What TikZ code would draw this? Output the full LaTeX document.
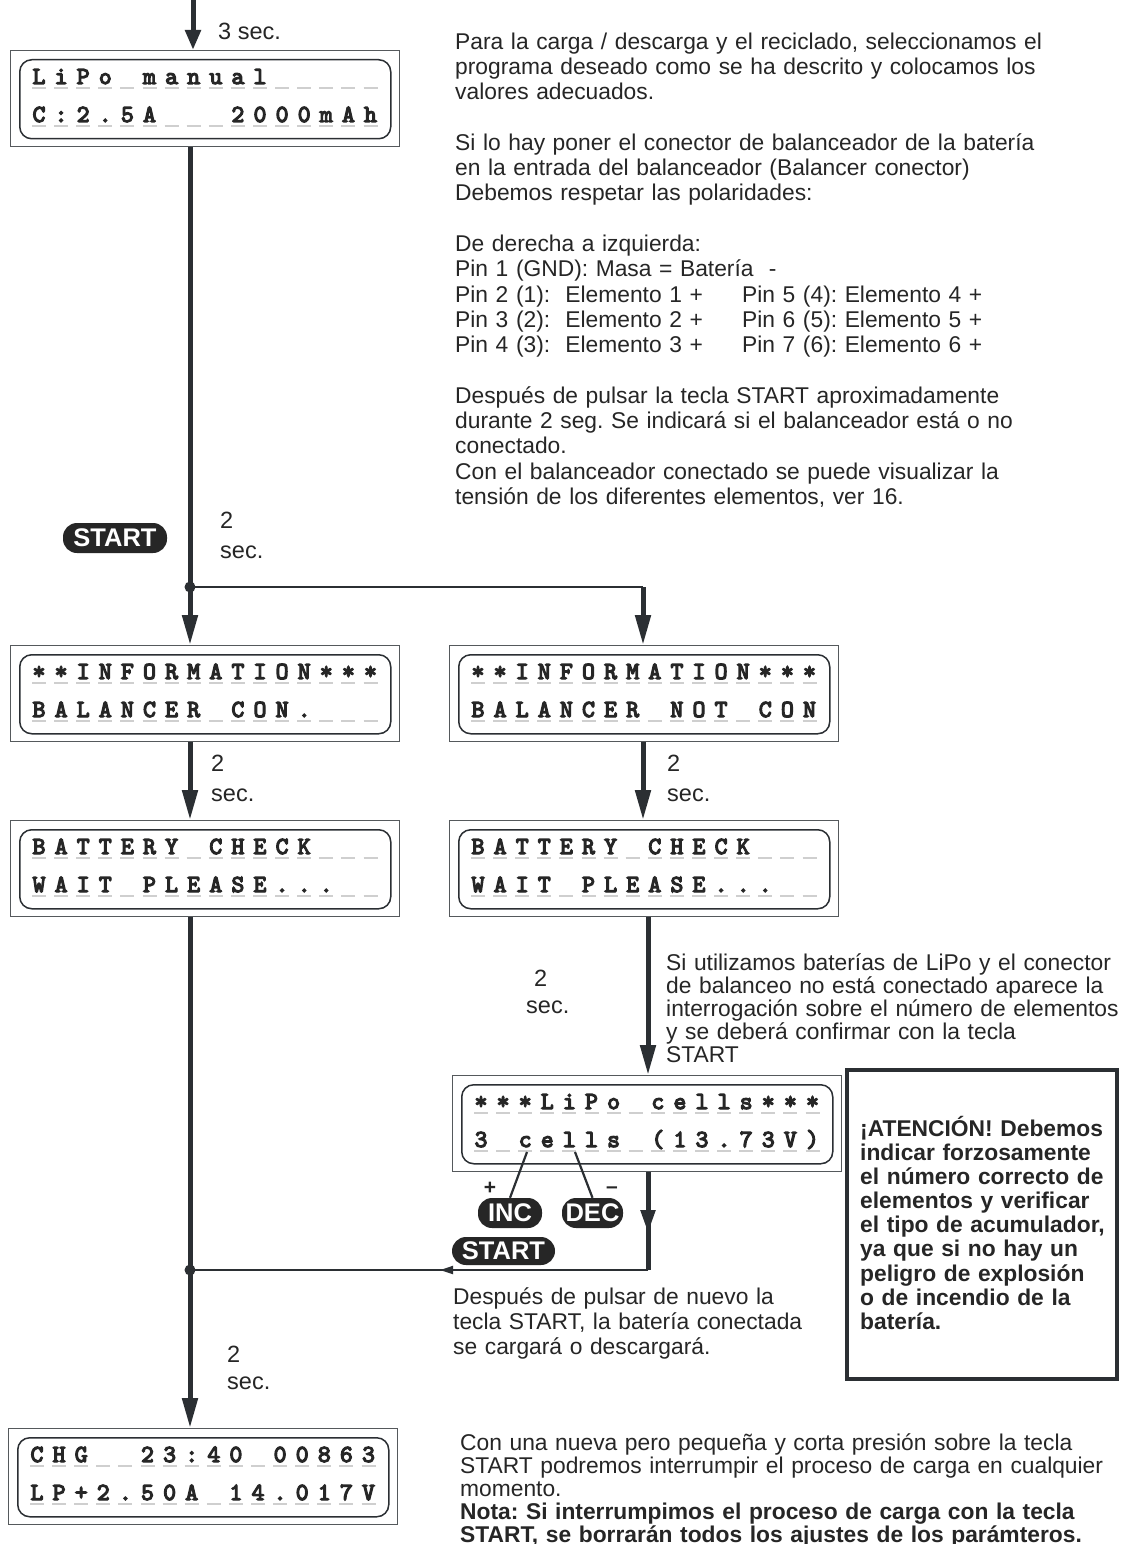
\documentclass[tikz,border=0pt]{standalone}
\usepackage{fontspec}
\setmainfont{Liberation Sans}
\newfontfamily\lcdff{lmmono10-regular.otf}[FakeBold=5]
\usetikzlibrary{arrows.meta}
\definecolor{ink}{HTML}{2B2F33}
\definecolor{txt}{HTML}{262626}
\definecolor{ulc}{HTML}{CFCFCF}
\newcommand\lcdfont{\fontsize{24.5}{24.5}\selectfont\lcdff}
\newcommand\parafont{\fontsize{22.8}{25.3}\selectfont}
\newcommand\parafontB{\fontsize{22.8}{23}\selectfont}
\newcommand\parafontC{\fontsize{22.8}{25}\selectfont}
\newcommand\attfont{\fontsize{22.8}{24.1}\selectfont\bfseries}
\newcommand\lblfont{\fontsize{23.5}{23.5}\selectfont}
\newcommand\pillfont{\fontsize{25.5}{25.5}\selectfont\bfseries}
\frenchspacing
\tikzset{
  x=1pt, y=-1pt,
  lcdouter/.style={draw=ink!80, line width=1.4pt, minimum width=389pt, minimum height=96pt, inner sep=0pt, anchor=north west},
  lcdinner/.style={draw=ink, line width=1.5pt, rounded corners=12pt, minimum width=371pt, minimum height=79pt, inner sep=0pt, anchor=north west},
  lcdch/.style={font=\lcdfont, text=txt, inner sep=0pt, anchor=base},
  thickln/.style={draw=ink, line width=5pt},
  thickarr/.style={draw=ink, line width=5pt, -{Triangle[length=30pt,width=15pt]}},
  thinln/.style={draw=ink, line width=1.8pt},
  jdot/.style={circle, fill=ink, inner sep=0pt, minimum size=11pt},
  pill/.style={fill=txt, text=white, font=\pillfont, rounded corners=14pt, inner sep=0pt},
  lbl/.style={font=\lblfont, text=txt, inner sep=0pt, anchor=base west},
  para/.style={text=txt, inner sep=0pt, anchor=north west, align=left},
  keyln/.style={draw=ink, line width=2.2pt},
}
\newcommand\lcdrow[4]{%
  \foreach \ch [count=\k from 0] in {#4} {%
    \draw[ulc, line width=1.2pt] ({#2+22.1*\k-7},{#3+4}) -- ({#2+22.1*\k+7},{#3+4});
    \node[lcdch] (#1\k) at ({#2+22.1*\k},{#3}) {\ch};
  }%
}
\newcommand\lcd[5]{%
  \node[lcdouter] (#1) at (#2,#3) {};
  \node[lcdinner] (#1i) at ({#2+9},{#3+9}) {};
  \lcdrow{#1a}{#2+29}{#3+34}{#4}
  \lcdrow{#1b}{#2+29}{#3+72}{#5}
}
\begin{document}
\begin{tikzpicture}
\useasboundingbox (0,0) rectangle (1126,1544);
\fill[white] (0,0) rectangle (1126,1544);

% LCD displays
\lcd{b1}{10}{50}{L,i,P,o,{},m,a,n,u,a,l,{},{},{},{},{}}{C,:,2,.,5,A,{},{},{},2,0,0,0,m,A,h}
\lcd{b2l}{10}{645}{*,*,I,N,F,O,R,M,A,T,I,O,N,*,*,*}{B,A,L,A,N,C,E,R,{},C,O,N,.,{},{},{}}
\lcd{b2r}{449}{645}{*,*,I,N,F,O,R,M,A,T,I,O,N,*,*,*}{B,A,L,A,N,C,E,R,{},N,O,T,{},C,O,N}
\lcd{b3l}{10}{820}{B,A,T,T,E,R,Y,{},C,H,E,C,K,{},{},{}}{W,A,I,T,{},P,L,E,A,S,E,.,.,.,{},{}}
\lcd{b3r}{449}{820}{B,A,T,T,E,R,Y,{},C,H,E,C,K,{},{},{}}{W,A,I,T,{},P,L,E,A,S,E,.,.,.,{},{}}
\lcd{b4}{452}{1075}{*,*,*,L,i,P,o,{},c,e,l,l,s,*,*,*}{3,{},c,e,l,l,s,{},{(},1,3,.,7,3,V,{)}}
\lcd{b5}{8}{1428}{C,H,G,{},{},2,3,:,4,0,{},0,0,8,6,3}{L,P,+,2,.,5,0,A,{},1,4,.,0,1,7,V}

% coordinates
\coordinate (top0) at (193,0);
\coordinate (j1) at (190,587);
\coordinate (j1r) at (643,587);
\coordinate (rx2) at (648,0);
\coordinate (j2) at (190,1270);
\coordinate (j2r) at (648,1270);
\coordinate (m4) at (648,1233);
\coordinate (a2) at (440,1270);
\coordinate (incfrom) at (527,1152);
\coordinate (decfrom) at (575,1152);

% connectors
\draw[thickln, -{Triangle[length=20pt,width=15pt]}] (top0) -- (top0 |- b1.north);
\draw[thickln] (b1.south -| j1) -- (j1);
\draw[thickarr] (j1) -- (j1 |- b2l.north);
\draw[thinln] (j1) -- (j1r);
\draw[thickarr] (j1r) -- (j1r |- b2r.north);
\draw[thickarr] (b2l.south -| j1) -- (b3l.north -| j1);
\draw[thickarr] (b2r.south -| j1r) -- (b3r.north -| j1r);
\draw[thickarr] (b3r.south -| rx2) -- (b4.north -| rx2);
\draw[thickln] (b3l.south -| j1) -- (j2);
\draw[thickarr] (j2) -- (b5.north -| j2);
\draw[thickln] (b4.south -| rx2) -- (j2r);
\draw[thickln, -{Triangle[length=23pt,width=14pt]}] (b4.south -| rx2) -- (m4);
\draw[thinln] (j2r) -- (j2);
\draw[thinln, -{Triangle[length=13pt,width=8pt]}] (j2r) -- (a2);
\node[jdot] (d1) at (j1) {};
\node[jdot] (d2) at (j2) {};

% buttons
\node[pill, minimum width=104pt, minimum height=30pt] (startA) at (115,538) {START};
\node[pill, minimum width=64pt, minimum height=30pt] (inc) at (510,1213) {INC};
\node[pill, minimum width=61pt, minimum height=30pt] (dec) at (592.5,1213) {DEC};
\node[pill, minimum width=103pt, minimum height=28pt] (startB) at (503.5,1251) {START};
\draw[keyln] (incfrom) -- (inc.north);
\draw[keyln] (decfrom) -- (dec.north);
\node[font=\fontsize{21}{21}\selectfont\bfseries, text=txt, inner sep=0pt] (plus) at (490,1188) {+};
\node[font=\fontsize{21}{21}\selectfont\bfseries, text=txt, inner sep=0pt] (minus) at (612,1190) {–};

% time labels
\node[lbl] (s3) at (218,40) {3 sec.};
\node[lbl] (n2a) at (220,528) {2};
\node[lbl] (s2a) at (220,558) {sec.};
\node[lbl] (n2b) at (211,771) {2};
\node[lbl] (s2b) at (211,801) {sec.};
\node[lbl] (n2c) at (667,771) {2};
\node[lbl] (s2c) at (667,801) {sec.};
\node[lbl] (n2d) at (534,986) {2};
\node[lbl] (s2d) at (526,1013) {sec.};
\node[lbl] (n2e) at (227,1362) {2};
\node[lbl] (s2e) at (227,1389) {sec.};

% texts
\node[para, font=\parafont, text width=660pt] (pA) at (455,32) {\rule{0pt}{17pt}Para la carga / descarga y el reciclado, seleccionamos el\\
programa deseado como se ha descrito y colocamos los\\
valores adecuados.\\[25.3pt]
Si lo hay poner el conector de balanceador de la batería\\
en la entrada del balanceador (Balancer conector)\\
Debemos respetar las polaridades:\\[25.3pt]
De derecha a izquierda:\\
Pin 1 (GND): Masa = Batería\ \ -\\
\makebox[287pt][l]{Pin 2 (1):\ \ Elemento 1 +}Pin 5 (4): Elemento 4 +\\
\makebox[287pt][l]{Pin 3 (2):\ \ Elemento 2 +}Pin 6 (5): Elemento 5 +\\
\makebox[287pt][l]{Pin 4 (3):\ \ Elemento 3 +}Pin 7 (6): Elemento 6 +\\[25.3pt]
Después de pulsar la tecla START aproximadamente\\
durante 2 seg. Se indicará si el balanceador está o no\\
conectado.\\
Con el balanceador conectado se puede visualizar la\\
tensión de los diferentes elementos, ver 16.};

\node[para, font=\parafontB, text width=455pt] (pB) at (666,953) {\rule{0pt}{17pt}Si utilizamos baterías de LiPo y el conector\\
de balanceo no está conectado aparece la\\
interrogación sobre el número de elementos\\
y se deberá confirmar con la tecla\\
START};

\node[para, font=\parafontC, text width=380pt] (pC) at (453,1287) {\rule{0pt}{17pt}Después de pulsar de nuevo la\\
tecla START, la batería conectada\\
se cargará o descargará.};

\node[draw=ink, line width=3.5pt, minimum width=270pt, minimum height=309pt, inner sep=0pt, anchor=north west] (att) at (845,1068) {};
\node[para, font=\attfont, text width=255pt] (attT) at (860,1116) {\rule{0pt}{17pt}¡ATENCIÓN! Debemos\\
indicar forzosamente\\
el número correcto de\\
elementos y verificar\\
el tipo de acumulador,\\
ya que si no hay un\\
peligro de explosión\\
o de incendio de la\\
batería.};

\node[para, font=\parafontB, text width=660pt] (pD) at (460,1433) {\rule{0pt}{17pt}Con una nueva pero pequeña y corta presión sobre la tecla\\
START podremos interrumpir el proceso de carga en cualquier\\
momento.\\
\textbf{Nota: Si interrumpimos el proceso de carga con la tecla}\\
\textbf{START, se borrarán todos los ajustes de los parámteros.}};
\end{tikzpicture}
\end{document}
